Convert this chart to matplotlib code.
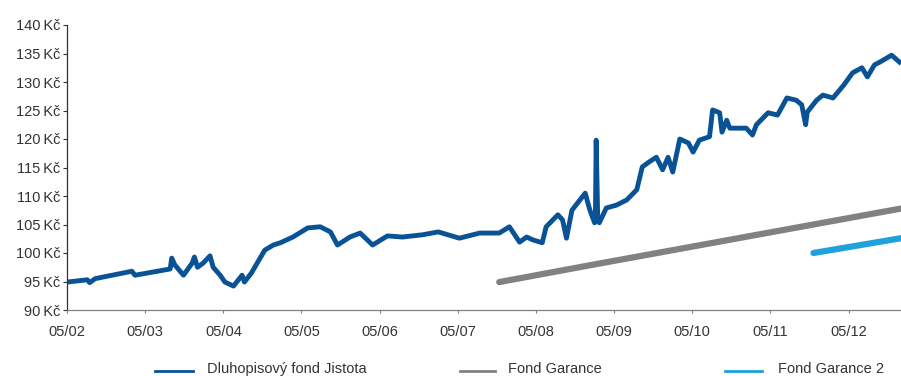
import matplotlib
matplotlib.use("Agg")
import matplotlib.pyplot as plt
from matplotlib.lines import Line2D

# time axis as decimal years (May 2002 = 2002.33)
jistota_t = [2002.33, 2002.59, 2002.62, 2002.69, 2003.16, 2003.20, 2003.65, 2003.67, 2003.71,
             2003.82, 2003.93, 2003.96, 2004.00, 2004.07, 2004.16, 2004.20, 2004.29, 2004.35,
             2004.46, 2004.57, 2004.60, 2004.69, 2004.77, 2004.86, 2004.97, 2005.06, 2005.22,
             2005.41, 2005.57, 2005.70, 2005.79, 2005.95, 2006.08, 2006.24, 2006.43, 2006.62,
             2006.88, 2007.08, 2007.35, 2007.61, 2007.86, 2007.99, 2008.12, 2008.21, 2008.29,
             2008.41, 2008.46, 2008.61, 2008.67, 2008.72, 2008.79, 2008.96, 2009.02, 2009.08,
             2009.09, 2009.10, 2009.12, 2009.14, 2009.23, 2009.36, 2009.49, 2009.62, 2009.69,
             2009.78, 2009.87, 2009.95, 2010.02, 2010.08, 2010.17, 2010.28, 2010.34, 2010.42,
             2010.55, 2010.59, 2010.68, 2010.71, 2010.77, 2010.81, 2011.02, 2011.10, 2011.15,
             2011.30, 2011.42, 2011.54, 2011.66, 2011.73, 2011.78, 2011.80, 2011.92, 2012.00,
             2012.13, 2012.27, 2012.38, 2012.50, 2012.57, 2012.66, 2012.73, 2012.88, 2012.98]
jistota_v = [94.9, 95.3, 94.8, 95.5, 96.8, 96.1, 97.2, 99.1, 97.9,
             96.1, 98.2, 99.3, 97.5, 98.2, 99.5, 97.5, 96.1, 94.9,
             94.2, 96.1, 94.9, 96.5, 98.4, 100.5, 101.4, 101.8, 102.8,
             104.4, 104.6, 103.7, 101.4, 102.8, 103.5, 101.4, 103.0, 102.8,
             103.2, 103.7, 102.6, 103.5, 103.5, 104.6, 101.9, 102.8, 102.3,
             101.8, 104.6, 106.7, 105.8, 102.6, 107.5, 110.5, 107.5, 105.3,
             106.0, 119.8, 106.0, 105.3, 107.9, 108.4, 109.3, 111.1, 115.1,
             116.0, 116.8, 114.6, 116.8, 114.2, 120.0, 119.3, 117.7, 119.8,
             120.4, 125.1, 124.6, 121.2, 123.3, 121.9, 121.9, 120.7, 122.5,
             124.6, 124.2, 127.2, 126.8, 126.0, 122.5, 124.7, 126.8, 127.7,
             127.2, 129.5, 131.6, 132.5, 130.9, 133.0, 133.5, 134.7, 133.5]

garance_t = [2007.86, 2009.0, 2010.0, 2011.0, 2012.0, 2013.0]
garance_v = [94.9, 97.8, 100.3, 102.8, 105.3, 107.8]

garance2_t = [2011.88, 2012.4, 2013.0]
garance2_v = [100.0, 101.2, 102.6]

year_ticks = [2002.33 + k for k in range(11)]
year_labels = ["05/02", "05/03", "05/04", "05/05", "05/06", "05/07",
               "05/08", "05/09", "05/10", "05/11", "05/12"]
y_ticks = list(range(90, 141, 5))
y_labels = [f"{v}\u2009Kč" for v in y_ticks]
series_names = ["Dluhopisový fond Jistota", "Fond Garance", "Fond Garance 2"]

c_blue = "#0a5296"
c_gray = "#7f8183"
c_light = "#1fa2dc"
txt = "#333333"

plt.rcParams["font.family"] = ["Liberation Sans Narrow", "Liberation Sans", "DejaVu Sans"]

fig = plt.figure(figsize=(9.01, 3.76), dpi=100)
ax = fig.add_axes([67 / 901, 66 / 376, 834 / 901, 285 / 376])

ax.plot(jistota_t, jistota_v, color=c_blue, lw=3.5, solid_joinstyle="round")
ax.plot(garance_t, garance_v, color=c_gray, lw=4.5, solid_capstyle="round")
ax.plot(garance2_t, garance2_v, color=c_light, lw=4.5, solid_capstyle="round")

ax.set_xlim(2002.33, 2013.0)
ax.set_ylim(90, 140)
ax.set_xticks(year_ticks)
ax.set_xticklabels(year_labels)
ax.set_yticks(y_ticks)
ax.set_yticklabels(y_labels)

for s in ["top", "right"]:
    ax.spines[s].set_visible(False)
ax.spines["left"].set_color(txt)
ax.spines["bottom"].set_color("#808080")
ax.spines["left"].set_linewidth(0.9)
ax.spines["bottom"].set_linewidth(0.9)
ax.tick_params(axis="y", length=3, width=0.8, color=txt, labelsize=10.5,
               labelcolor=txt, pad=2)
ax.tick_params(axis="x", length=2, width=0.8, color="#808080", labelsize=10.5,
               labelcolor=txt, pad=9)

# legend drawn by hand along the bottom edge
W, H = 901, 376
legend_items = [(155, 193, 207, c_blue), (460, 495, 508, c_gray), (725, 762, 778, c_light)]
for (x0, x1, xt, col), name in zip(legend_items, series_names):
    fig.add_artist(Line2D([x0 / W, x1 / W], [1 - 371 / H, 1 - 371 / H],
                          color=col, lw=2, transform=fig.transFigure))
    fig.text(xt / W, 1 - 369 / H, name, ha="left", va="center", fontsize=10.5, color=txt)

fig.savefig("out.png", dpi=100)
